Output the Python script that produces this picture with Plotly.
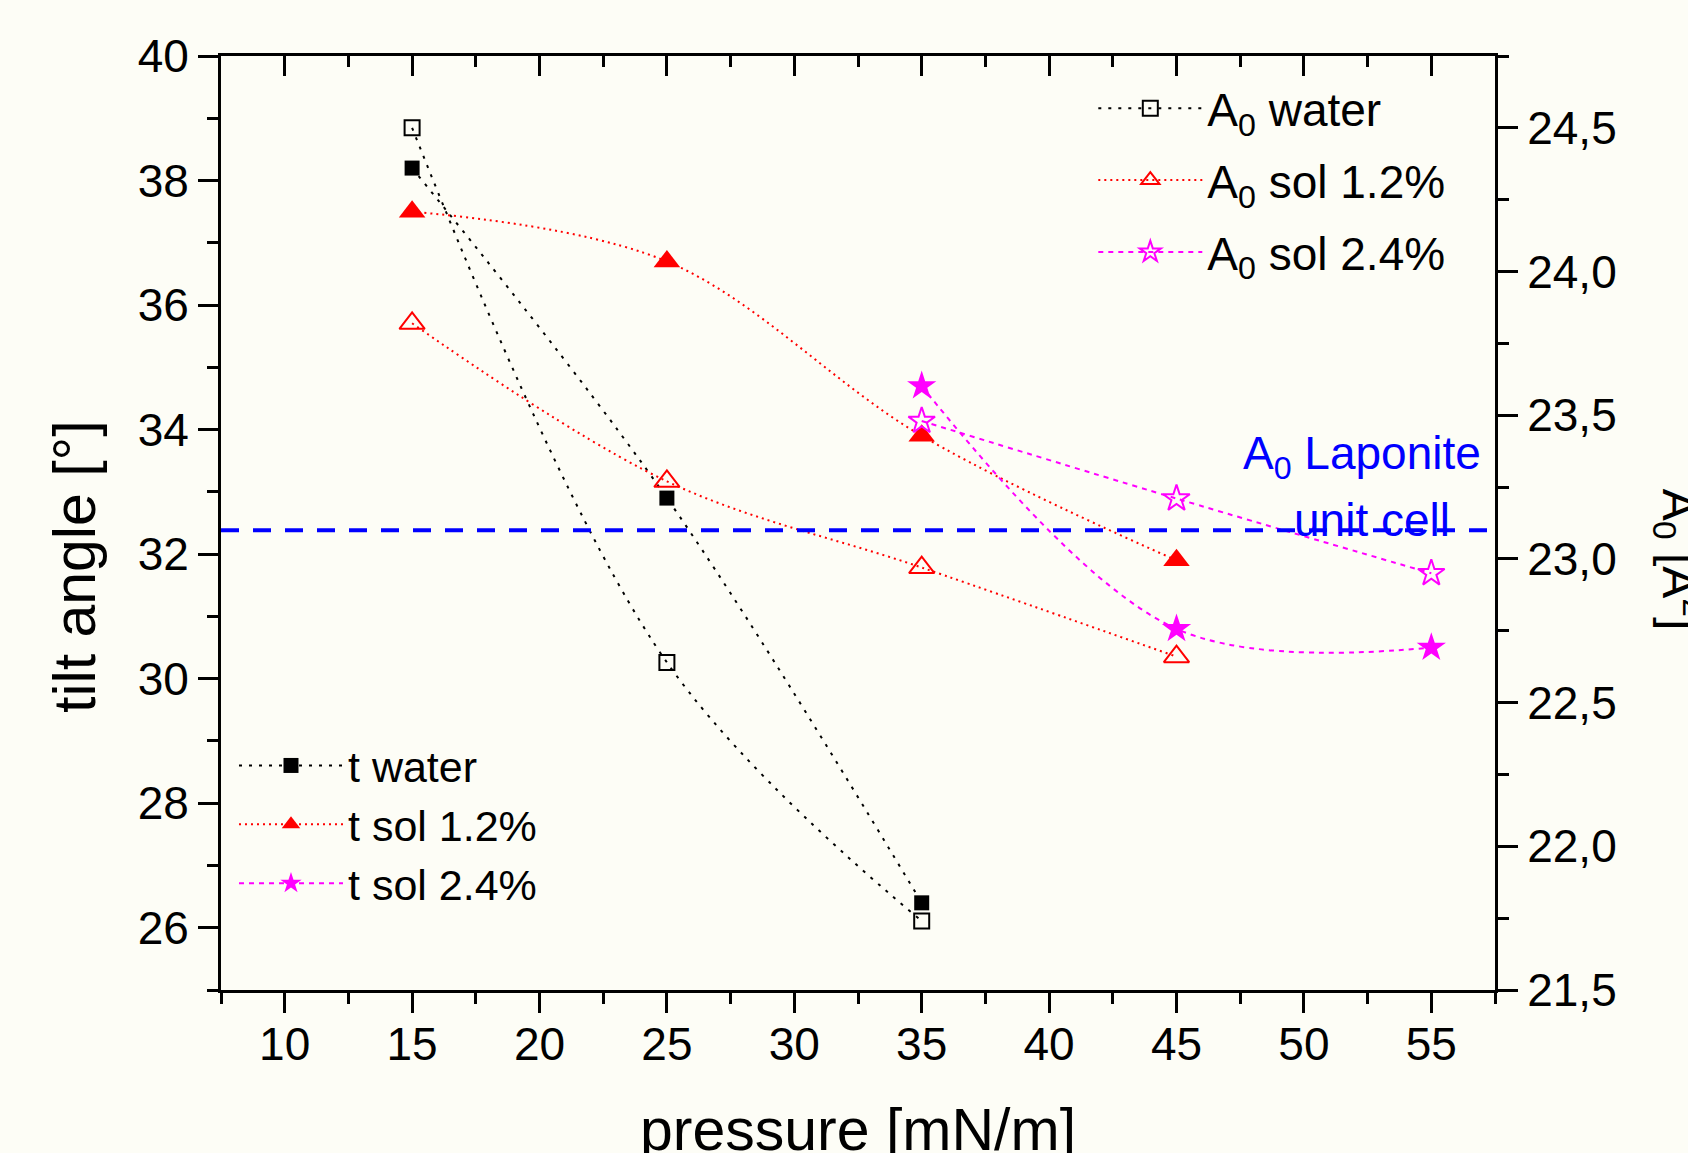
import plotly.graph_objects as go

# ---------------- data ----------------
pressure_water = [15, 25, 35]
pressure_sol12 = [15, 25, 35, 45]
pressure_sol24 = [35, 45, 55]

tilt_water = [38.2, 32.9, 26.4]
tilt_sol12 = [37.5, 36.7, 33.9, 31.9]
tilt_sol24 = [34.7, 30.8, 30.5]

a0_water = [24.50, 22.64, 21.74]
a0_sol12 = [23.82, 23.27, 22.97, 22.66]
a0_sol24 = [23.48, 23.21, 22.95]

a0_laponite = 23.1

x_range = [7.5, 57.5]
tilt_range = [25, 40]
a0_range = [21.5, 24.75]

names_a0 = ["A<sub>0</sub> water", "A<sub>0</sub> sol 1.2%", "A<sub>0</sub> sol 2.4%"]
names_t = ["t water", "t sol 1.2%", "t sol 2.4%"]

# ---------------- style ----------------
FONT = "Liberation Sans, Arial, sans-serif"
BG = "#FDFDF6"
BLACK, RED, MAGENTA, BLUE = "#000000", "#FF0000", "#FF00FF", "#0000FF"
DASH_BLACK = "3px,7px"
DASH_RED = "2px,4px"
DASH_MAG = "5px,5px"

fig = go.Figure()


def add(x, y, name, color, symbol, size, dash, yaxis, legend, group, open_=False):
    fig.add_trace(go.Scatter(
        x=x, y=y, name=name, mode="lines+markers",
        line=dict(color=color, width=2, dash=dash, shape="spline", smoothing=1),
        marker=dict(symbol=symbol, size=size, color=color,
                    line=dict(color=color, width=2 if open_ else 0)),
        yaxis=yaxis, legend=legend, legendgroup=group,
    ))


# A0 (right axis)
add(pressure_water, a0_water, names_a0[0], BLACK, "square-open", 15, DASH_BLACK, "y2", "legend", "a1", True)
add(pressure_sol12, a0_sol12, names_a0[1], RED, "triangle-up-open", 22, DASH_RED, "y2", "legend", "a2", True)
add(pressure_sol24, a0_sol24, names_a0[2], MAGENTA, "star-open", 20, DASH_MAG, "y2", "legend", "a3", True)

# tilt angle (left axis)
add(pressure_water, tilt_water, names_t[0], BLACK, "square", 15, DASH_BLACK, "y", "legend2", "t1")
add(pressure_sol12, tilt_sol12, names_t[1], RED, "triangle-up", 23, DASH_RED, "y", "legend2", "t2")
add(pressure_sol24, tilt_sol24, names_t[2], MAGENTA, "star", 22, DASH_MAG, "y", "legend2", "t3")

# invisible trace so the mirrored top axis (inward ticks) is drawn
fig.add_trace(go.Scatter(x=[None], y=[None], xaxis="x2", yaxis="y",
                         showlegend=False, hoverinfo="skip"))

axis_common = dict(showline=True, linecolor="black", linewidth=3, showgrid=False,
                   zeroline=False, tickwidth=3, tickcolor="black", ticklen=20)
minor_common = dict(tickwidth=3, tickcolor="black", ticklen=11)

fig.update_layout(
    width=1688, height=1153,
    margin=dict(l=221, r=193, t=56, b=163, autoexpand=False),
    paper_bgcolor=BG, plot_bgcolor=BG,
    separators=",.",
    font=dict(family=FONT, size=46, color="black"),
    showlegend=True,
    xaxis=dict(range=x_range, tick0=0, dtick=5, ticks="outside",
               minor=dict(tick0=0, dtick=2.5, ticks="outside", **minor_common),
               tickfont=dict(size=46), ticklabelstandoff=-8,
               **axis_common),
    xaxis2=dict(range=x_range, overlaying="x", side="top", tick0=0, dtick=5,
                ticks="inside", showticklabels=False,
                minor=dict(tick0=0, dtick=2.5, ticks="inside", **minor_common),
                **axis_common),
    yaxis=dict(range=tilt_range, tick0=0, dtick=2, ticks="outside",
               minor=dict(tick0=0, dtick=1, ticks="outside", **minor_common),
               tickfont=dict(size=46),
               **axis_common),
    yaxis2=dict(range=a0_range, overlaying="y", side="right", tick0=0, dtick=0.5,
                tickformat=".1f", ticks="outside",
                minor=dict(tick0=0, dtick=0.25, ticks="outside", **minor_common),
                tickfont=dict(size=46),
                **axis_common),
    legend=dict(x=0.6847, y=0.983, xanchor="left", yanchor="top",
                bgcolor="rgba(0,0,0,0)", borderwidth=0, itemwidth=104,
                font=dict(size=46, family=FONT), tracegroupgap=9),
    legend2=dict(x=0.0102, y=0.2773, xanchor="left", yanchor="top",
                 bgcolor="rgba(0,0,0,0)", borderwidth=0, itemwidth=104,
                 font=dict(size=43, family=FONT), tracegroupgap=0),
)

# A0 Laponite unit cell reference line
fig.add_shape(type="line", xref="x domain", x0=0, x1=1, yref="y2",
              y0=a0_laponite, y1=a0_laponite,
              line=dict(color=BLUE, width=4, dash="18px,14px"))

fig.add_annotation(text="A<sub>0</sub> Laponite", xref="paper", yref="paper",
                   x=0.9906, y=0.5717, xanchor="right", yanchor="middle",
                   showarrow=False, font=dict(size=46, color=BLUE, family=FONT))
fig.add_annotation(text="unit cell", xref="paper", yref="paper",
                   x=0.9663, y=0.5027, xanchor="right", yanchor="middle",
                   showarrow=False, font=dict(size=46, color=BLUE, family=FONT))

# x axis title (sits low, partly cut by the bottom edge as in the reference)
fig.add_annotation(text="pressure [mN/m]", xref="paper", yref="paper",
                   x=0.5, y=-0.1499, xanchor="center", yanchor="middle",
                   showarrow=False, font=dict(size=59, color="black", family=FONT))

# left axis title (placed like the reference, below the axis centre)
fig.add_annotation(text="tilt angle [°]", xref="paper", yref="paper",
                   x=-0.1146, y=0.454, xanchor="center", yanchor="middle",
                   textangle=-90, showarrow=False,
                   font=dict(size=59, color="black", family=FONT))

# right axis title (reads top-to-bottom)
fig.add_annotation(text="A<sub>0</sub> [Å<sup>2</sup>]", xref="paper", yref="paper",
                   x=1.1445, y=0.4615, xanchor="center", yanchor="middle",
                   textangle=90, showarrow=False,
                   font=dict(size=48, color="black", family=FONT))

fig.write_html(
    "out.html",
    config={"displayModeBar": False},
    post_script="document.body.style.margin='0px';"
                "document.body.style.background='" + BG + "';",
)
